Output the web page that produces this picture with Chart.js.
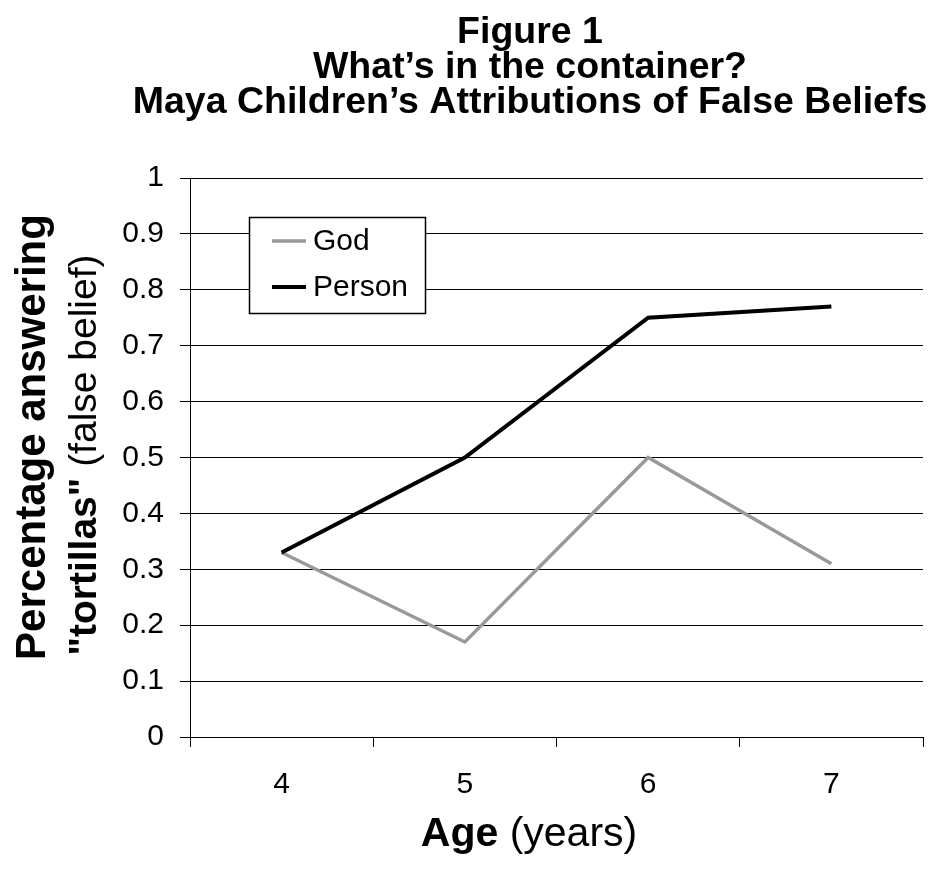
<!DOCTYPE html>
<html>
<head>
<meta charset="utf-8">
<script src="https://cdn.jsdelivr.net/npm/chart.js@4.4.1/dist/chart.umd.min.js"></script>
<style>
  html, body { margin: 0; padding: 0; background: #ffffff; }
  #wrap { width: 930px; height: 877px; position: relative; }
</style>
</head>
<body>
<div id="wrap"><canvas id="chart" width="930" height="877"></canvas></div>
<script>
// Ages of the children (x categories)
const ages = ['4', '5', '6', '7'];
// Proportion answering "tortillas" for each agent
const godValues = [0.33, 0.17, 0.50, 0.31];
const personValues = [0.33, 0.50, 0.75, 0.77];
// Y tick labels
const yTickLabels = ['0', '0.1', '0.2', '0.3', '0.4', '0.5', '0.6', '0.7', '0.8', '0.9', '1'];
// Title lines
const titleLines = ['Figure 1', 'What\u2019s in the container?', 'Maya Children\u2019s Attributions of False Beliefs'];

const FONT = '"Liberation Sans", Arial, Helvetica, sans-serif';

// Draws the figure title, the two axis titles and the boxed legend
const annotations = {
  id: 'annotations',
  afterDraw(chart) {
    const ctx = chart.ctx;
    ctx.save();
    ctx.fillStyle = '#000';
    ctx.textBaseline = 'alphabetic';

    // Figure title
    ctx.font = 'bold 37.5px ' + FONT;
    ctx.textAlign = 'center';
    const titleBase = [43, 78, 113];
    titleLines.forEach((t, i) => ctx.fillText(t, 530, titleBase[i]));

    // X axis title: bold "Age" + regular " (years)"
    const xBold = 'Age', xReg = ' (years)';
    const xSize = 41;
    ctx.textAlign = 'left';
    ctx.font = 'bold ' + xSize + 'px ' + FONT;
    const wB = ctx.measureText(xBold).width;
    ctx.font = xSize + 'px ' + FONT;
    const wR = ctx.measureText(xReg).width;
    const xs = 529 - (wB + wR) / 2;
    ctx.font = 'bold ' + xSize + 'px ' + FONT;
    ctx.fillText(xBold, xs, 846);
    ctx.font = xSize + 'px ' + FONT;
    ctx.fillText(xReg, xs + wB, 846);

    // Y axis title, two rotated lines
    ctx.save();
    ctx.rotate(-Math.PI / 2);
    ctx.font = 'bold 42px ' + FONT;
    ctx.textAlign = 'center';
    ctx.fillText('Percentage answering', -437, 45);
    const yBold = '"tortillas"', yReg = ' (false belief)';
    const ySize = 39;
    ctx.textAlign = 'left';
    ctx.font = 'bold ' + ySize + 'px ' + FONT;
    const w2B = ctx.measureText(yBold).width;
    ctx.font = ySize + 'px ' + FONT;
    const w2R = ctx.measureText(yReg).width;
    const start = -455 - (w2B + w2R) / 2;
    ctx.font = 'bold ' + ySize + 'px ' + FONT;
    ctx.fillText(yBold, start, 96);
    ctx.font = ySize + 'px ' + FONT;
    ctx.fillText(yReg, start + w2B, 96);
    ctx.restore();

    // Legend box
    const box = { x: 249, y: 217, w: 176, h: 96 };
    ctx.fillStyle = '#fff';
    ctx.fillRect(box.x, box.y, box.w, box.h);
    ctx.strokeStyle = '#000';
    ctx.lineWidth = 1.5;
    ctx.strokeRect(box.x + 0.5, box.y + 0.5, box.w, box.h);
    const rows = [241, 287];
    const order = [1, 0]; // God first, then Person
    ctx.font = '30px ' + FONT;
    ctx.textBaseline = 'middle';
    ctx.textAlign = 'left';
    order.forEach((di, r) => {
      const ds = chart.data.datasets[di];
      ctx.strokeStyle = ds.borderColor;
      ctx.lineWidth = ds.borderWidth;
      ctx.beginPath();
      ctx.moveTo(272, rows[r]);
      ctx.lineTo(306, rows[r]);
      ctx.stroke();
      ctx.fillStyle = '#000';
      ctx.fillText(ds.label, 313, rows[r] + 1);
    });
    ctx.restore();
  }
};

new Chart(document.getElementById('chart'), {
  type: 'line',
  data: {
    labels: ages,
    datasets: [
      {
        label: 'Person',
        data: personValues,
        borderColor: '#000000',
        backgroundColor: '#000000',
        borderWidth: 4,
        pointRadius: 0,
        tension: 0,
        order: 0
      },
      {
        label: 'God',
        data: godValues,
        borderColor: '#999999',
        backgroundColor: '#999999',
        borderWidth: 3.5,
        pointRadius: 0,
        tension: 0,
        order: 1
      }
    ]
  },
  options: {
    responsive: false,
    animation: false,
    devicePixelRatio: 1,
    layout: { padding: { top: 178, right: 7, left: 0, bottom: 0 } },
    plugins: {
      legend: { display: false },
      title: { display: false },
      tooltip: { enabled: false }
    },
    scales: {
      x: {
        type: 'category',
        offset: true,
        grid: {
          offset: true,
          drawOnChartArea: false,
          drawTicks: true,
          tickLength: 10,
          color: '#000',
          lineWidth: 1
        },
        border: { display: true, color: '#000', width: 1 },
        ticks: {
          color: '#000',
          font: { family: FONT, size: 30 },
          padding: 20,
          maxRotation: 0
        },
        afterFit(scale) { scale.height = 140; }
      },
      y: {
        min: 0,
        max: 1,
        ticks: {
          stepSize: 0.1,
          color: '#000',
          font: { family: FONT, size: 30 },
          padding: 16,
          callback(value, index) { return yTickLabels[index]; }
        },
        grid: {
          color: '#000',
          lineWidth: 1,
          drawTicks: true,
          tickLength: 10
        },
        border: { display: true, color: '#000', width: 1 },
        afterFit(scale) { scale.width = 190; }
      }
    }
  },
  plugins: [annotations]
});
</script>
</body>
</html>
